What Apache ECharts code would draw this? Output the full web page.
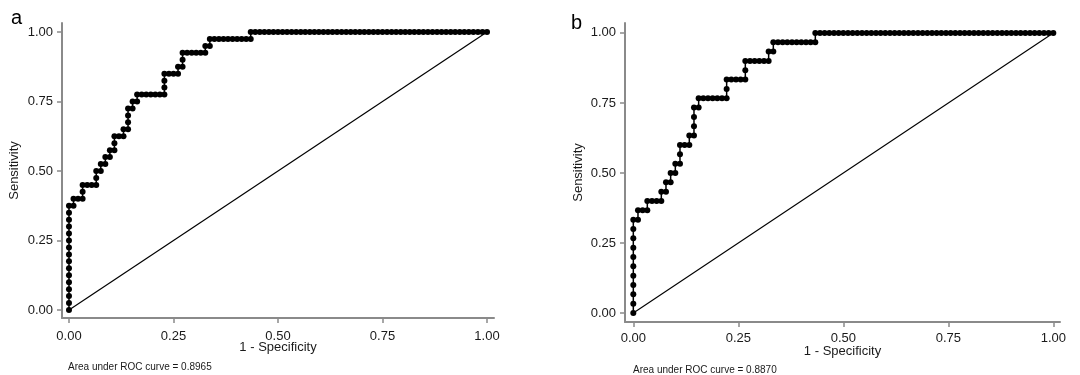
<!DOCTYPE html>
<html>
<head>
<meta charset="utf-8">
<script src="https://cdn.jsdelivr.net/npm/echarts@6/dist/echarts.min.js"></script>
<style>
html,body{margin:0;padding:0;background:#fff;}
#chart{width:1080px;height:375px;}
</style>
</head>
<body>
<div id="chart"></div>
<script>
// Tick labels
const tickValues = [0, 0.25, 0.5, 0.75, 1];
// Panel a: counts of false positives (of 92 negatives) and true positives (of 40 positives) at each cut point
const negA = 92, posA = 40;
const fpA = [0,0,0,0,0,0,0,0,0,0,0,0,0,0,0,0,
  1,1,2,3,3,3,4,5,6,6,6,7,7,8,8,9,9,10,10,10,11,12,12,13,13,13,13,14,14,15,15,
  16,17,18,19,20,21,21,21,21,22,23,24,24,25,25,25,26,27,28,29,30,30,31,31,
  32,33,34,35,36,37,38,39,40,40,
  41,42,43,44,45,46,47,48,49,50,51,52,53,54,55,56,57,58,59,60,61,62,63,64,65,66,
  67,68,69,70,71,72,73,74,75,76,77,78,79,80,81,82,83,84,85,86,87,88,89,90,91,92];
const tpA = [0,1,2,3,4,5,6,7,8,9,10,11,12,13,14,15,
  15,16,16,16,17,18,18,18,18,19,20,20,21,21,22,22,23,23,24,25,25,25,26,26,27,28,29,29,30,30,31,
  31,31,31,31,31,31,32,33,34,34,34,34,35,35,36,37,37,37,37,37,37,38,38,39,
  39,39,39,39,39,39,39,39,39,40,
  40,40,40,40,40,40,40,40,40,40,40,40,40,40,40,40,40,40,40,40,40,40,40,40,40,40,
  40,40,40,40,40,40,40,40,40,40,40,40,40,40,40,40,40,40,40,40,40,40,40,40,40,40];
const aucA = '0.8965';
// Panel b: counts of false positives (of 90 negatives) and true positives (of 30 positives)
const negB = 90, posB = 30;
const fpB = [0,0,0,0,0,0,0,0,0,0,0,
  1,1,2,3,3,4,5,6,6,7,7,8,8,9,9,10,10,10,11,12,12,13,13,13,13,14,14,
  15,16,17,18,19,20,20,20,21,22,23,24,24,24,25,26,27,28,29,29,30,30,
  31,32,33,34,35,36,37,38,39,39,
  40,41,42,43,44,45,46,47,48,49,50,51,52,53,54,55,56,57,58,59,60,61,62,63,64,65,
  66,67,68,69,70,71,72,73,74,75,76,77,78,79,80,81,82,83,84,85,86,87,88,89,90];
const tpB = [0,1,2,3,4,5,6,7,8,9,10,
  10,11,11,11,12,12,12,12,13,13,14,14,15,15,16,16,17,18,18,18,19,19,20,21,22,22,23,
  23,23,23,23,23,23,24,25,25,25,25,25,26,27,27,27,27,27,27,28,28,29,
  29,29,29,29,29,29,29,29,29,30,
  30,30,30,30,30,30,30,30,30,30,30,30,30,30,30,30,30,30,30,30,30,30,30,30,30,30,
  30,30,30,30,30,30,30,30,30,30,30,30,30,30,30,30,30,30,30,30,30,30,30,30,30];
const aucB = '0.8870';
// Reference diagonal
const refX = [0, 1];
const refY = [0, 1];

const FONT = '"Liberation Sans", Arial, sans-serif';
const AXIS_COLOR = '#8a8a8a';
const TEXT_COLOR = '#1a1a1a';

function rocPoints(fp, tp, neg, pos) {
  return fp.map((f, i) => [f / neg, tp[i] / pos]);
}
function refPoints() { return refX.map((x, i) => [x, refY[i]]); }

function xAxisDef(gridIndex, min, max, labelMargin, nameGap) {
  return {
    type: 'value', gridIndex, min, max,
    name: '1 - Specificity', nameLocation: 'middle', nameGap, nameMoveOverlap: false,
    nameTextStyle: { fontFamily: FONT, fontSize: 13, color: TEXT_COLOR },
    axisLine: { show: true, onZero: false, lineStyle: { color: AXIS_COLOR, width: 2 } },
    axisTick: { show: true, inside: false, length: 5, customValues: tickValues, lineStyle: { color: AXIS_COLOR, width: 1.5 } },
    axisLabel: { show: true, margin: labelMargin, customValues: tickValues, fontFamily: FONT, fontSize: 13, color: TEXT_COLOR,
      formatter: v => Number(v).toFixed(2) },
    splitLine: { show: false }
  };
}
function yAxisDef(gridIndex, min, max, gap) {
  return {
    type: 'value', gridIndex, min, max,
    name: 'Sensitivity', nameLocation: 'middle', nameGap: gap, nameMoveOverlap: false,
    nameTextStyle: { fontFamily: FONT, fontSize: 13, color: TEXT_COLOR },
    axisLine: { show: true, onZero: false, lineStyle: { color: AXIS_COLOR, width: 2 } },
    axisTick: { show: true, inside: false, length: 5, customValues: tickValues, lineStyle: { color: AXIS_COLOR, width: 1.5 } },
    axisLabel: { show: true, margin: 9, customValues: tickValues, fontFamily: FONT, fontSize: 13, color: TEXT_COLOR,
      formatter: v => Number(v).toFixed(2) },
    splitLine: { show: false }
  };
}
function rocSeries(idx, data) {
  return {
    type: 'line', xAxisIndex: idx, yAxisIndex: idx, data,
    symbol: 'circle', symbolSize: 6, showSymbol: true, showAllSymbol: true,
    itemStyle: { color: '#000' }, lineStyle: { color: '#000', width: 1.5 },
    animation: false, z: 3
  };
}
function refSeries(idx) {
  return {
    type: 'line', xAxisIndex: idx, yAxisIndex: idx, data: refPoints(),
    symbol: 'none', lineStyle: { color: '#000', width: 1.2 }, animation: false, z: 2
  };
}

const chart = echarts.init(document.getElementById('chart'), null, { renderer: 'canvas' });
chart.setOption({
  animation: false,
  backgroundColor: '#fff',
  title: [
    { text: 'a', left: 6, top: 3, textStyle: { fontFamily: FONT, fontSize: 20, fontWeight: 'normal', color: '#000' } },
    { text: 'b', left: 566, top: 8, textStyle: { fontFamily: FONT, fontSize: 20, fontWeight: 'normal', color: '#000' } },
    { text: 'Area under ROC curve = ' + aucA, left: 63, top: 357, textStyle: { fontFamily: FONT, fontSize: 10, fontWeight: 'normal', color: TEXT_COLOR } },
    { text: 'Area under ROC curve = ' + aucB, left: 628, top: 360, textStyle: { fontFamily: FONT, fontSize: 10, fontWeight: 'normal', color: TEXT_COLOR } }
  ],
  grid: [
    { left: 62, top: 23, width: 432, height: 295, containLabel: false, outerBoundsMode: 'none' },
    { left: 625, top: 23, width: 435, height: 299, containLabel: false, outerBoundsMode: 'none' }
  ],
  xAxis: [
    xAxisDef(0, -0.0167, 1.0167, 12, 23),
    xAxisDef(1, -0.0198, 1.0159, 10, 23)
  ],
  yAxis: [
    yAxisDef(0, -0.0288, 1.0324, 41),
    yAxisDef(1, -0.0321, 1.0354, 40)
  ],
  series: [
    refSeries(0),
    rocSeries(0, rocPoints(fpA, tpA, negA, posA)),
    refSeries(1),
    rocSeries(1, rocPoints(fpB, tpB, negB, posB))
  ]
});
</script>
</body>
</html>
